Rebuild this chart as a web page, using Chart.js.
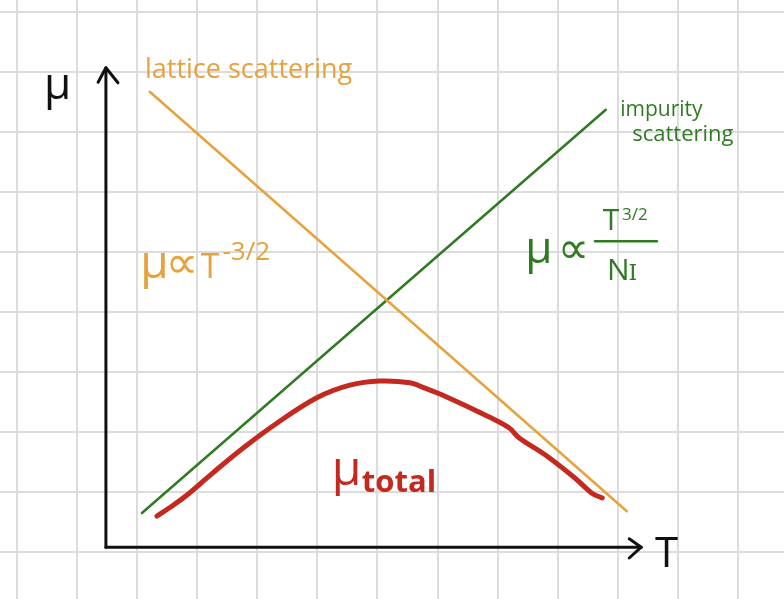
<!DOCTYPE html>
<html>
<head>
<meta charset="utf-8">
<script src="https://cdn.jsdelivr.net/npm/chart.js@4.4.1/dist/chart.umd.min.js"></script>
<style>
  html, body { margin: 0; padding: 0; background: #fff; }
  canvas { display: block; }
</style>
</head>
<body>
<canvas id="sketch" width="784" height="599"></canvas>
<script>
// Mobility vs temperature sketch. Units are grid cells (one cell = one
// background square); x grows to the right, y grows upward.

// axes (black) and their arrowheads
const axisYLine = [{ x: 1.48, y: 0.08 }, { x: 1.48, y: 8.07 }];
const axisXLine = [{ x: 1.48, y: 0.08 }, { x: 10.39, y: 0.08 }];
const arrowY = [{ x: 1.35, y: 7.83 }, { x: 1.48, y: 8.07 }, { x: 1.68, y: 7.82 }];
const arrowX = [{ x: 10.19, y: 0.22 }, { x: 10.39, y: 0.08 }, { x: 10.19, y: -0.1 }];

// lattice scattering: mu ~ T^-3/2 (falls with T)
const latticeT = [2.21, 10.15];
const latticeMu = [7.67, 0.68];

// impurity scattering: mu ~ T^3/2 / N_I (rises with T)
const impurityT = [2.08, 9.80];
const impurityMu = [0.65, 7.37];

// total mobility, hand-traced
const totalT = [2.33, 2.60, 2.83, 3.26, 3.76, 4.33, 4.99, 5.54, 6.04, 6.54, 6.79, 7.07, 7.86, 8.19, 8.36, 8.79, 9.29, 9.57, 9.74];
const totalMu = [0.60, 0.78, 0.95, 1.32, 1.73, 2.15, 2.57, 2.78, 2.85, 2.82, 2.73, 2.62, 2.25, 2.07, 1.90, 1.62, 1.23, 0.98, 0.90];

// fraction bar of T^3/2 / N_I
const fractionBar = [{ x: 9.62, y: 5.18 }, { x: 10.65, y: 5.18 }];

const ORANGE = '#e6a23c';
const GREEN = '#2f7a22';
const RED = '#c3291f';
const INK = '#111111';

const SANS = '"Open Sans", "DejaVu Sans", sans-serif';
const SERIF = '"DejaVu Serif", serif';
const MATH = '"DejaVu Sans", sans-serif';

const pts = (xs, ys) => xs.map((v, i) => ({ x: v, y: ys[i] }));

// text written on the sketch, placed in grid units
const notes = [
  { text: 'μ', x: 0.45, y: 7.55, size: 44, color: INK },
  { text: 'T', x: 10.62, y: -0.25, size: 42, color: INK },
  { text: 'lattice scattering', x: 2.13, y: 7.9, size: 27, color: ORANGE },
  { text: 'impurity', x: 10.04, y: 7.27, size: 21, color: GREEN },
  { text: 'scattering', x: 10.24, y: 6.85, size: 22, color: GREEN },
  { text: 'μ', x: 2.05, y: 4.57, size: 46, color: ORANGE },
  { text: '∝', x: 2.47, y: 4.57, size: 46, color: ORANGE, font: MATH },
  { text: 'T', x: 3.06, y: 4.57, size: 34, color: ORANGE },
  { text: '-3/2', x: 3.42, y: 4.87, size: 26, color: ORANGE },
  { text: 'μ', x: 8.46, y: 4.82, size: 44, color: GREEN },
  { text: '∝', x: 9.0, y: 4.82, size: 44, color: GREEN, font: MATH },
  { text: 'T', x: 9.75, y: 5.37, size: 30, color: GREEN },
  { text: '3/2', x: 10.07, y: 5.53, size: 17, color: GREEN },
  { text: 'N', x: 9.82, y: 4.53, size: 30, color: GREEN },
  { text: 'I', x: 10.18, y: 4.53, size: 22, color: GREEN, font: SERIF },
  { text: 'μ', x: 5.24, y: 1.12, size: 48, color: RED },
  { text: 'total', x: 5.74, y: 1.0, size: 31, color: RED, weight: 'bold' }
];

function lineSet(data, color, width, extra = {}) {
  return Object.assign({
    data,
    showLine: true,
    borderColor: color,
    borderWidth: width,
    backgroundColor: 'transparent',
    pointRadius: 0,
    pointHoverRadius: 0,
    borderCapStyle: 'round',
    borderJoinStyle: 'round',
    tension: 0
  }, extra);
}

const notesPlugin = {
  id: 'notes',
  afterDatasetsDraw(chart) {
    const { ctx, scales } = chart;
    ctx.save();
    ctx.textBaseline = 'alphabetic';
    ctx.textAlign = 'left';
    notes.forEach((n) => {
      ctx.font = `${n.weight || 'normal'} ${n.size}px ${n.font || SANS}`;
      ctx.fillStyle = n.color;
      ctx.fillText(n.text, scales.x.getPixelForValue(n.x), scales.y.getPixelForValue(n.y));
    });
    ctx.restore();
  }
};

// keep only whole-cell grid lines
function cellTicks(scale) {
  const out = [];
  for (let v = Math.ceil(scale.min); v <= Math.floor(scale.max); v++) out.push({ value: v });
  scale.ticks = out;
}

const gridStyle = { color: '#dcdcdc', lineWidth: 2, drawTicks: false };

new Chart(document.getElementById('sketch').getContext('2d'), {
  type: 'scatter',
  data: {
    datasets: [
      lineSet(pts(latticeT, latticeMu), ORANGE, 2.5),
      lineSet(pts(impurityT, impurityMu), GREEN, 2.5),
      lineSet(pts(totalT, totalMu), RED, 5, { tension: 0.35 }),
      lineSet(fractionBar, GREEN, 2.5),
      lineSet(axisYLine, INK, 3),
      lineSet(axisXLine, INK, 3),
      lineSet(arrowY, INK, 3),
      lineSet(arrowX, INK, 3)
    ]
  },
  options: {
    responsive: false,
    animation: false,
    events: [],
    layout: { padding: 0, autoPadding: false },
    plugins: { legend: { display: false }, tooltip: { enabled: false } },
    scales: {
      x: {
        type: 'linear',
        min: -17 / 60.08,
        max: (784 - 17) / 60.08,
        grid: gridStyle,
        border: { display: false },
        ticks: { display: false },
        afterBuildTicks: cellTicks,
        afterFit: (s) => { s.height = 0; }
      },
      y: {
        type: 'linear',
        min: (552 - 599) / 60,
        max: 552 / 60,
        grid: gridStyle,
        border: { display: false },
        ticks: { display: false },
        afterBuildTicks: cellTicks,
        afterFit: (s) => { s.width = 0; }
      }
    }
  },
  plugins: [notesPlugin]
});
</script>
</body>
</html>
